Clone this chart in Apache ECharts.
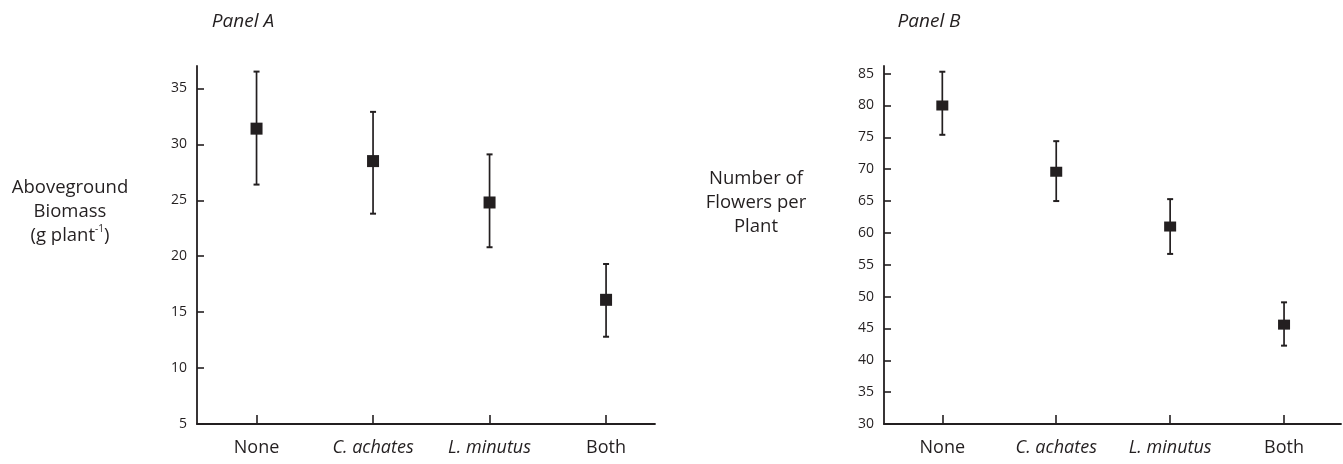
<!DOCTYPE html>
<html>
<head>
<meta charset="utf-8">
<script src="https://cdn.jsdelivr.net/npm/echarts@6/dist/echarts.min.js"></script>
<style>
html,body{margin:0;padding:0;background:#fff;}
#chart{width:1343px;height:464px;}
</style>
</head>
<body>
<div id="chart"></div>
<script>
// ---- data ----
const categories = ['None', 'C. achates', 'L. minutus', 'Both'];

// Panel A: aboveground biomass (g plant^-1)
const biomassMean  = [31.4, 28.5, 24.8, 16.1];
const biomassLow   = [26.4, 23.8, 20.8, 12.8];
const biomassHigh  = [36.5, 32.9, 29.1, 19.3];
const biomassTicks = [5, 10, 15, 20, 25, 30, 35];

// Panel B: number of flowers per plant
const flowersMean  = [80.0, 69.6, 61.0, 45.6];
const flowersLow   = [75.4, 65.0, 56.7, 42.3];
const flowersHigh  = [85.3, 74.4, 65.3, 49.1];
const flowersTicks = [30, 35, 40, 45, 50, 55, 60, 65, 70, 75, 80, 85];

const catIdx = categories.map((c, i) => i);

// ---- styling ----
const INK = '#231f20';
const FONT = '"Open Sans", "Noto Sans", sans-serif';

function xAxisFor(gridIndex, min, max) {
  return {
    type: 'value', gridIndex, min, max,
    splitLine: { show: false },
    axisLine: { show: true, onZero: false, lineStyle: { color: INK, width: 1.8 } },
    axisTick: { show: true, inside: true, length: 9, customValues: catIdx, lineStyle: { color: INK, width: 1.6 } },
    axisLabel: {
      customValues: catIdx, margin: 15, color: INK, fontFamily: FONT, fontSize: 18,
      formatter: v => {
        const name = categories[Math.round(v)];
        return (Math.round(v) === 1 || Math.round(v) === 2) ? '{i|' + name + '}' : '{n|' + name + '}';
      },
      rich: {
        i: { fontStyle: 'italic', fontSize: 18, fontFamily: FONT, color: INK },
        n: { fontSize: 18, fontFamily: FONT, color: INK }
      }
    }
  };
}
function yAxisFor(gridIndex, min, max, ticks) {
  return {
    type: 'value', gridIndex, min, max, interval: 5,
    splitLine: { show: false },
    axisLine: { show: true, onZero: false, lineStyle: { color: INK, width: 1.8 } },
    axisTick: { show: true, inside: true, length: 7, customValues: ticks, lineStyle: { color: INK, width: 1.6 } },
    axisLabel: { customValues: ticks, margin: 10, color: INK, fontFamily: FONT, fontSize: 14 }
  };
}
function errorSeries(axisIndex, low, high) {
  return {
    type: 'custom', xAxisIndex: axisIndex, yAxisIndex: axisIndex, z: 2,
    data: catIdx.map(i => [i, low[i], high[i]]),
    renderItem: (params, api) => {
      const x = api.value(0);
      const lo = api.coord([x, api.value(1)]);
      const hi = api.coord([x, api.value(2)]);
      const hw = 3;
      const st = { stroke: INK, lineWidth: 1.7 };
      return {
        type: 'group',
        children: [
          { type: 'line', shape: { x1: lo[0], y1: lo[1], x2: hi[0], y2: hi[1] }, style: st },
          { type: 'line', shape: { x1: lo[0] - hw, y1: lo[1], x2: lo[0] + hw, y2: lo[1] }, style: { stroke: INK, lineWidth: 2 } },
          { type: 'line', shape: { x1: hi[0] - hw, y1: hi[1], x2: hi[0] + hw, y2: hi[1] }, style: { stroke: INK, lineWidth: 2 } }
        ]
      };
    }
  };
}
function meanSeries(axisIndex, mean, size) {
  return {
    type: 'scatter', xAxisIndex: axisIndex, yAxisIndex: axisIndex, z: 3,
    symbol: 'rect', symbolSize: size,
    itemStyle: { color: INK, opacity: 1 },
    data: catIdx.map(i => [i, mean[i]])
  };
}

const chart = echarts.init(document.getElementById('chart'), null, { renderer: 'canvas' });
chart.setOption({
  animation: false,
  backgroundColor: '#ffffff',
  textStyle: { fontFamily: FONT, color: INK },
  title: [
    { text: 'Panel A', left: 243, top: 10, textAlign: 'center', padding: 0,
      textStyle: { fontFamily: FONT, fontStyle: 'italic', fontWeight: 'normal', fontSize: 19, lineHeight: 24, color: INK } },
    { text: 'Panel B', left: 929, top: 10, textAlign: 'center', padding: 0,
      textStyle: { fontFamily: FONT, fontStyle: 'italic', fontWeight: 'normal', fontSize: 19, lineHeight: 24, color: INK } },
    { text: 'Aboveground\nBiomass\n(g plant{sup|-1})', left: 70, top: 176, textAlign: 'center', padding: 0,
      textStyle: { fontFamily: FONT, fontWeight: 'normal', fontSize: 18.5, lineHeight: 24, color: INK, align: 'center',
        rich: { sup: { fontSize: 10, fontFamily: FONT, color: INK, verticalAlign: 'top', lineHeight: 16 } } } },
    { text: 'Number of\nFlowers per\nPlant', left: 756, top: 167, textAlign: 'center', padding: 0,
      textStyle: { fontFamily: FONT, fontWeight: 'normal', fontSize: 18.5, lineHeight: 24, color: INK, align: 'center' } }
  ],
  grid: [
    { left: 197, top: 66, width: 458, height: 358, outerBoundsMode: 'none' },
    { left: 884, top: 66, width: 457, height: 358, outerBoundsMode: 'none' }
  ],
  xAxis: [ xAxisFor(0, -0.511, 3.42), xAxisFor(1, -0.512, 3.5) ],
  yAxis: [ yAxisFor(0, 5, 37, biomassTicks), yAxisFor(1, 30, 86.2, flowersTicks) ],
  series: [
    errorSeries(0, biomassLow, biomassHigh),
    meanSeries(0, biomassMean, [12, 12]),
    errorSeries(1, flowersLow, flowersHigh),
    meanSeries(1, flowersMean, [12, 10])
  ]
});
</script>
</body>
</html>
